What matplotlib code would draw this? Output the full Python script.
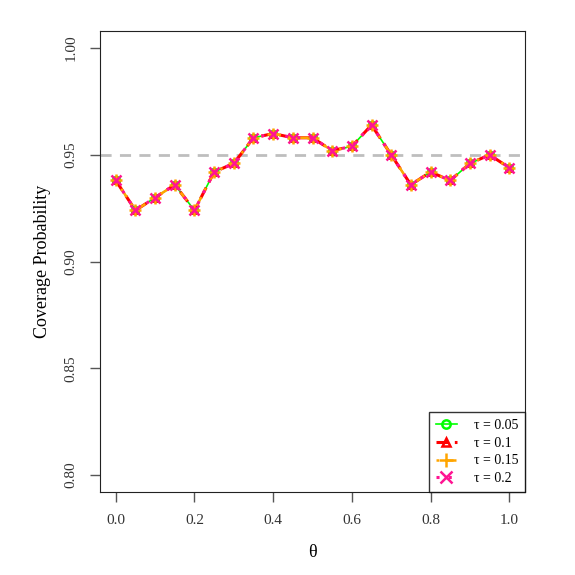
import numpy as np
import matplotlib
matplotlib.use("Agg")
import matplotlib.pyplot as plt

plt.rcParams['font.family'] = ['Liberation Serif', 'DejaVu Serif']

theta = [0.0, 0.05, 0.1, 0.15, 0.2, 0.25, 0.3, 0.35, 0.4, 0.45, 0.5,
         0.55, 0.6, 0.65, 0.7, 0.75, 0.8, 0.85, 0.9, 0.95, 1.0]
cover = [0.938, 0.924, 0.930, 0.936, 0.924, 0.942, 0.946, 0.958, 0.960, 0.958, 0.958,
         0.952, 0.954, 0.964, 0.950, 0.936, 0.942, 0.938, 0.946, 0.950, 0.944]
taus = ["0.05", "0.1", "0.15", "0.2"]
cols = ["#00FF00", "#FF0000", "#FFA500", "#FF1493"]
styles = ["-", (0, (4, 2)), (0, (1, 3, 4, 3)), (0, (1, 3))]
widths = [1.2, 2.2, 1.8, 2.2]
marks = ["o", "^", "+", "x"]
msizes = [5, 5, 8, 7]

fig = plt.figure(figsize=(5.75, 5.75), dpi=100)
ax = fig.add_axes([0.174, 0.144, 0.739, 0.802])

ax.axhline(0.95, color="#BEBEBE", lw=2, ls=(0, (4, 3)), zorder=1)
for t, c, s, w, m, ms in zip(taus, cols, styles, widths, marks, msizes):
    mfc = "none" if m in ("o", "^") else c
    ax.plot(theta, cover, color=c, ls=s, lw=w, marker=m, ms=ms, mew=1.8,
            mfc=mfc, label="τ = %s" % t)

ax.set_xlim(-0.04, 1.04)
ax.set_ylim(0.792, 1.008)
ax.set_xticks([0.0, 0.2, 0.4, 0.6, 0.8, 1.0])
ax.set_xticklabels(["0.0", "0.2", "0.4", "0.6", "0.8", "1.0"])
ax.set_yticks([0.80, 0.85, 0.90, 0.95, 1.00])
ax.set_yticklabels(["0.80", "0.85", "0.90", "0.95", "1.00"], rotation=90, va="center")
ax.tick_params(direction="out", length=7, width=1, colors="#555555", labelsize=11, pad=9)
ax.tick_params(labelcolor="#333333")
for sp in ax.spines.values():
    sp.set_color("#222222")
ax.set_xlabel("θ", fontsize=13, labelpad=12)
ax.set_ylabel("Coverage Probability", fontsize=13, labelpad=10)

leg = ax.legend(loc="lower right", fontsize=10, frameon=True, fancybox=False,
                edgecolor="black", borderaxespad=0, handlelength=1.5,
                handletextpad=1.2, labelspacing=0.35, borderpad=0.5, markerscale=1.2)
leg.get_frame().set_linewidth(1)

fig.savefig("out.png", dpi=100)
